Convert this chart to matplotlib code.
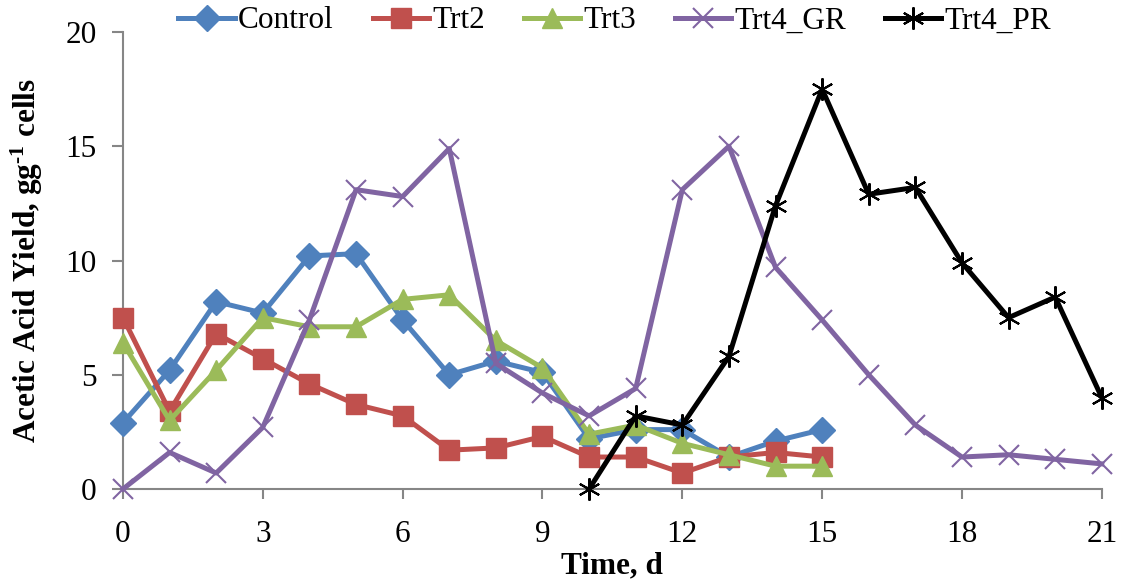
import matplotlib
matplotlib.use("Agg")
import matplotlib.pyplot as plt

days = list(range(0, 22))
control = [2.9, 5.2, 8.2, 7.7, 10.2, 10.3, 7.4, 5.0, 5.6, 5.1, 2.2, 2.6, 2.6, 1.4, 2.1, 2.6]
trt2 = [7.5, 3.4, 6.8, 5.7, 4.6, 3.7, 3.2, 1.7, 1.8, 2.3, 1.4, 1.4, 0.7, 1.4, 1.6, 1.4]
trt3 = [6.4, 3.0, 5.2, 7.5, 7.1, 7.1, 8.3, 8.5, 6.5, 5.3, 2.4, 2.8, 2.0, 1.5, 1.0, 1.0]
trt4_gr = [0.0, 1.6, 0.7, 2.7, 7.4, 13.1, 12.8, 14.9, 5.5, 4.2, 3.2, 4.4, 13.1, 15.0,
           9.7, 7.4, 5.0, 2.8, 1.4, 1.5, 1.3, 1.1]
trt4_pr_days = list(range(10, 22))
trt4_pr = [0.0, 3.2, 2.8, 5.8, 12.4, 17.5, 12.9, 13.2, 9.9, 7.5, 8.4, 4.0]
xticks = [0, 3, 6, 9, 12, 15, 18, 21]
yticks = [0, 5, 10, 15, 20]

plt.rcParams['font.family'] = ['Liberation Serif', 'DejaVu Serif']
plt.rcParams['mathtext.fontset'] = 'custom'
plt.rcParams['mathtext.rm'] = 'Liberation Serif:bold'
plt.rcParams['mathtext.bf'] = 'Liberation Serif:bold'
plt.rcParams['mathtext.it'] = 'Liberation Serif:bold'

FS = 22.5

fig = plt.figure(figsize=(11.22, 5.79), dpi=100)
ax = fig.add_axes([0.1096, 0.1554, 0.8724, 0.7893])

lw = 3.6
ax.plot(days[:len(control)], control, color='#4F81BD', lw=lw, marker='D', ms=13,
        label='Control', clip_on=False, zorder=3)
ax.plot(days[:len(trt2)], trt2, color='#C0504D', lw=lw, marker='s', ms=14,
        label='Trt2', clip_on=False, zorder=3)
ax.plot(days[:len(trt3)], trt3, color='#9BBB59', lw=lw, marker='^', ms=15,
        label='Trt3', clip_on=False, zorder=3)
ax.plot(days, trt4_gr, color='#8064A2', lw=lw, marker='x', ms=15, mew=1.5,
        label='Trt4_GR', clip_on=False, zorder=3)
ax.plot(trt4_pr_days, trt4_pr, color='black', lw=lw, marker=(6, 2, 0), ms=16, mew=1.5,
        label='Trt4_PR', clip_on=False, zorder=4)

ax.set_xlim(0, 21)
ax.set_ylim(0, 20)
ax.set_xticks(xticks)
ax.set_yticks(yticks)
ax.tick_params(axis='both', labelsize=FS, direction='out', width=1.5,
               color='#868686')
ax.tick_params(axis='x', length=7, pad=15)
ax.tick_params(axis='y', length=8, pad=11)
for s in ['top', 'right']:
    ax.spines[s].set_visible(False)
for s in ['left', 'bottom']:
    ax.spines[s].set_color('#868686')
    ax.spines[s].set_linewidth(1.5)

ax.set_xlabel('Time, d', fontsize=FS, fontweight='bold', va='baseline')
ax.xaxis.set_label_coords(0.5, -(573 - 489) / 457)
ax.set_ylabel('Acetic Acid Yield, gg$^{\\text{-1}}$ cells', fontsize=FS,
              fontweight='bold', va='center')
ax.yaxis.set_label_coords((27 - 123) / 979, 0.5)

ax.legend(loc='center', bbox_to_anchor=(0.548, 1 - 21 / 579),
          bbox_transform=fig.transFigure, ncol=5, frameon=False,
          fontsize=FS, handlelength=1.8, handletextpad=0.1, columnspacing=1.25,
          borderaxespad=0, borderpad=0)

fig.savefig('out.png', dpi=100)
